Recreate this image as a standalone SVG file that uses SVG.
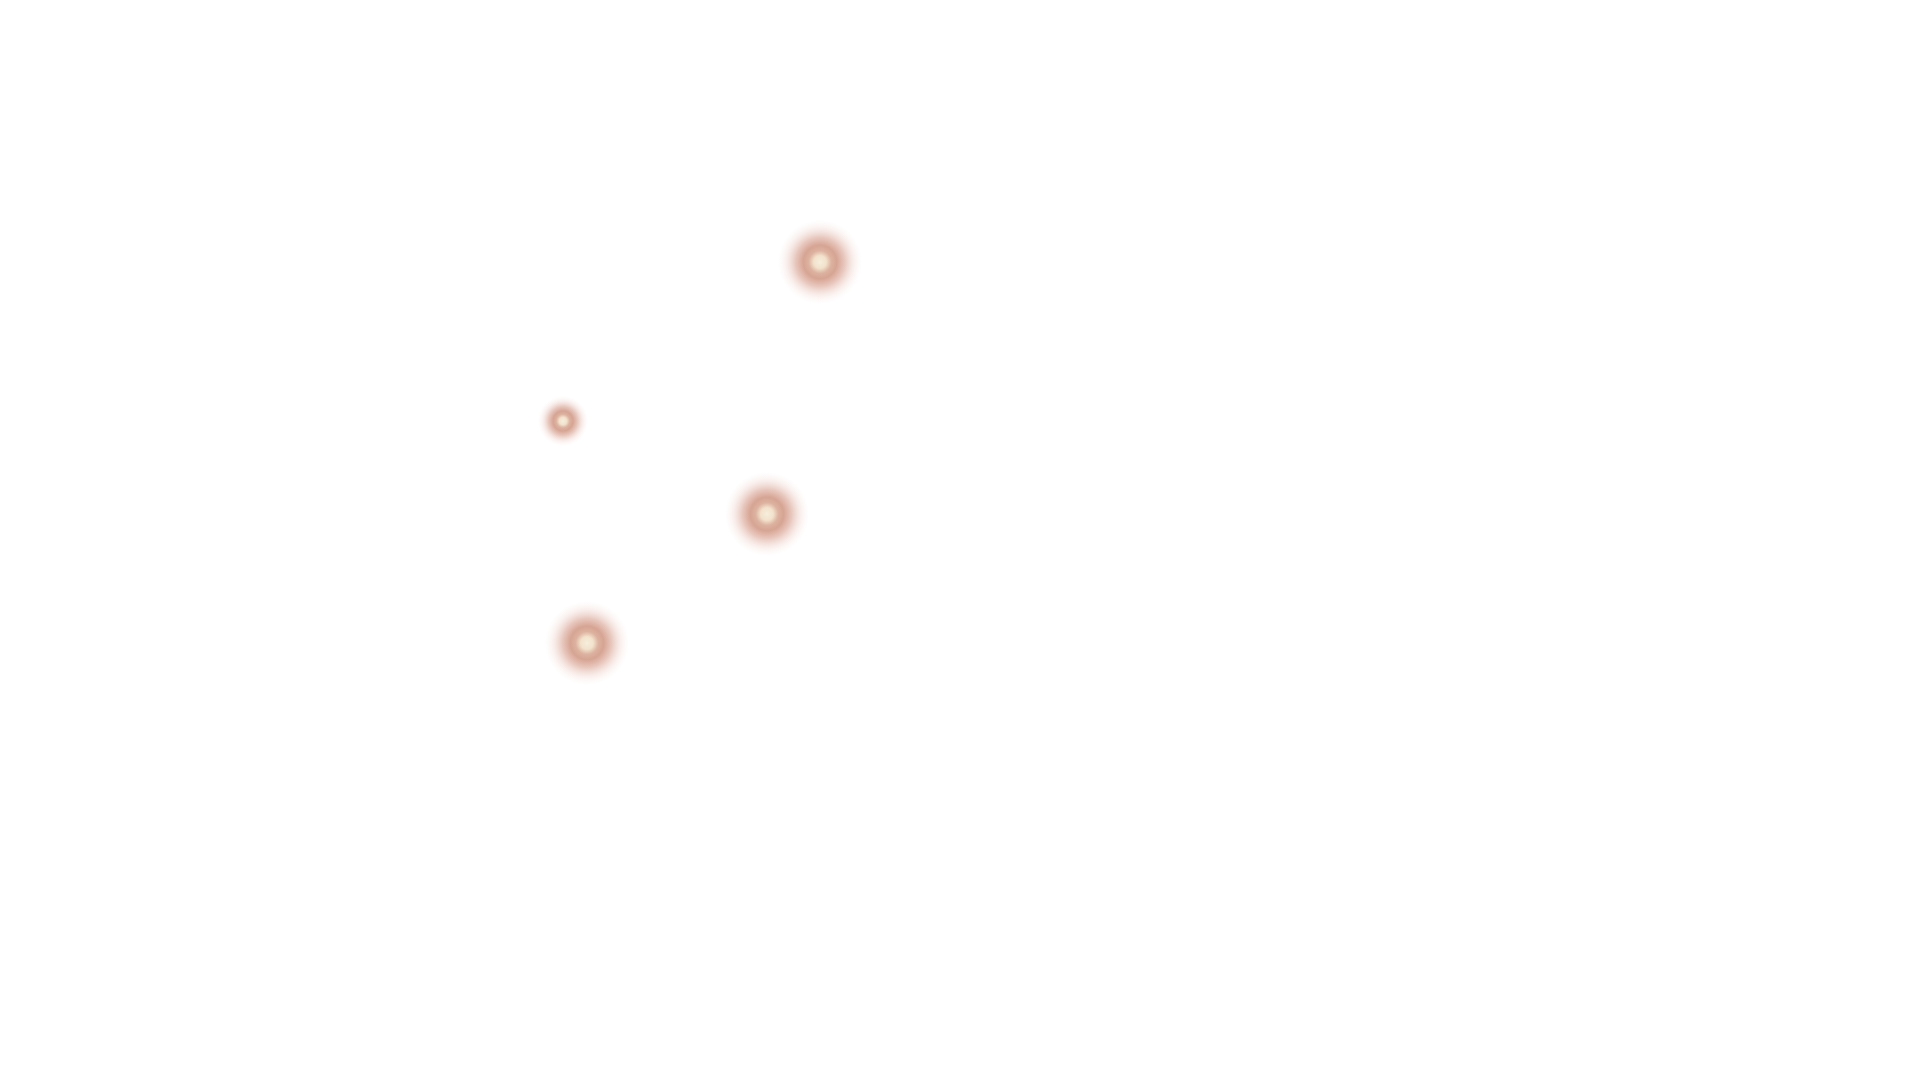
<svg xmlns="http://www.w3.org/2000/svg" width="1920" height="1080" viewBox="0 0 1920 1080">
  <defs>
    <radialGradient id="glow" cx="0.5" cy="0.5" r="0.5">
      <stop offset="0" stop-color="#f6eedc"/>
      <stop offset="0.15" stop-color="#f2e2cc"/>
      <stop offset="0.27" stop-color="#ddb2a0"/>
      <stop offset="0.4" stop-color="#d6a493"/>
      <stop offset="0.58" stop-color="#ddae9f" stop-opacity="0.7"/>
      <stop offset="0.8" stop-color="#ebcbc1" stop-opacity="0.3"/>
      <stop offset="1" stop-color="#f5e2dc" stop-opacity="0"/>
    </radialGradient>
  </defs>
  <style>
    .dot { fill: url(#glow); }
  </style>
  <rect width="1920" height="1080" fill="#ffffff"/>
  <g id="connectors"></g>
  <g id="node-1"><circle class="dot" cx="820" cy="262" r="42"/></g>
  <g id="node-2"><circle class="dot" cx="563" cy="421" r="25"/></g>
  <g id="node-3"><circle class="dot" cx="767" cy="514" r="42"/></g>
  <g id="node-4"><circle class="dot" cx="587" cy="643" r="42"/></g>
</svg>
